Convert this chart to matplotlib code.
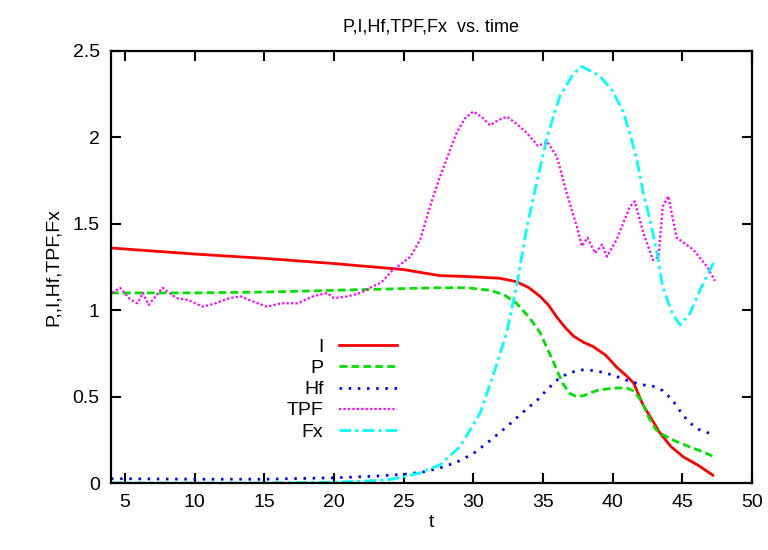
import matplotlib
matplotlib.use('Agg')
import matplotlib.pyplot as plt

plt.rcParams['font.family'] = ['Liberation Sans', 'DejaVu Sans']

# I
t_I = [4, 10, 15, 20, 25, 27.6, 29.5, 31.9, 33.1, 34.0, 34.8, 35.4, 36.0, 36.6, 37.2, 37.9, 38.6, 39.5,
       40.3, 41.0, 41.5, 42.2, 43.4, 44.2, 45.1, 46.2, 47.2]
v_I = [1.36, 1.325, 1.30, 1.27, 1.235, 1.20, 1.195, 1.185, 1.165, 1.13, 1.08, 1.03, 0.96, 0.90, 0.85, 0.815,
       0.79, 0.74, 0.67, 0.62, 0.58, 0.45, 0.29, 0.21, 0.15, 0.10, 0.045]

# P
t_P = [4, 10, 15, 20, 25, 27.6, 29.5, 31.2, 32.2, 33.1, 34.0, 34.8, 35.7, 36.4, 36.9, 37.4, 37.9, 38.5,
       39.1, 40.3, 41.0, 41.6, 42.1, 42.6, 43.1, 43.6, 44.3, 45.5, 46.5, 47.2]
v_P = [1.10, 1.10, 1.105, 1.115, 1.125, 1.13, 1.13, 1.115, 1.09, 1.04, 0.96, 0.87, 0.71, 0.58, 0.52, 0.50,
       0.505, 0.525, 0.54, 0.55, 0.55, 0.53, 0.47, 0.38, 0.31, 0.28, 0.25, 0.21, 0.18, 0.155]

# Hf
t_Hf = [4, 10, 15, 20, 23, 25, 26.5, 27.6, 28.8, 30.0, 31.2, 32.4, 33.5, 34.6, 35.3, 36.0, 36.8, 37.7, 38.8,
        40.0, 41.0, 42.0, 42.9, 43.6, 44.3, 44.9, 45.5, 46.2, 47.2]
v_Hf = [0.025, 0.022, 0.022, 0.03, 0.04, 0.05, 0.065, 0.087, 0.12, 0.17, 0.245, 0.325, 0.405, 0.48, 0.54,
        0.595, 0.635, 0.655, 0.65, 0.625, 0.595, 0.57, 0.56, 0.535, 0.48, 0.41, 0.35, 0.31, 0.28]

# TPF
t_TPF = [4.1, 4.65, 5.4, 5.9, 6.3, 6.7, 7.2, 7.7, 8.2, 8.7, 9.5, 10.6, 11.5, 12.5, 13.3, 14.2, 15.2, 16.2,
         17.4, 18.5, 19.5, 20.0, 21.0, 21.9, 22.6, 23.4, 24.2, 25.5, 26.2, 26.9, 27.6, 28.8, 29.4, 30.0,
         30.6, 31.2, 31.8, 32.4, 33.1, 33.85, 34.65, 35.3, 36.0, 36.7, 37.45, 37.8, 38.2, 38.75, 39.25, 39.6,
         40.3, 41.25, 41.6, 42.2, 42.9, 43.3, 43.6, 44.0, 44.6, 45.8, 46.8, 47.35]
v_TPF = [1.10, 1.13, 1.06, 1.04, 1.10, 1.03, 1.08, 1.13, 1.10, 1.07, 1.06, 1.02, 1.04, 1.07, 1.08, 1.05,
         1.02, 1.04, 1.04, 1.08, 1.10, 1.07, 1.08, 1.10, 1.13, 1.16, 1.23, 1.31, 1.41, 1.60, 1.77, 2.025,
         2.11, 2.15, 2.12, 2.07, 2.10, 2.12, 2.08, 2.025, 1.95, 1.975, 1.89, 1.68, 1.48, 1.37, 1.42, 1.33,
         1.38, 1.31, 1.41, 1.60, 1.63, 1.45, 1.29, 1.31, 1.60, 1.66, 1.42, 1.35, 1.25, 1.17]

# Fx
t_Fx = [4, 15, 20, 22, 24, 25, 26.2, 27.6, 29.05, 30.5, 31.4, 32.4, 33.1, 33.85, 34.6, 35.3, 36.2, 37.2,
        37.8, 39.1, 40.0, 40.75, 41.25, 41.75, 42.2, 42.7, 43.2, 43.6, 44.3, 44.85, 45.55, 46.3, 47.35]
v_Fx = [0.0, 0.0, 0.005, 0.01, 0.02, 0.035, 0.06, 0.104, 0.21, 0.405, 0.615, 0.87, 1.135, 1.48, 1.755, 2.00,
        2.235, 2.37, 2.41, 2.355, 2.27, 2.15, 2.02, 1.87, 1.68, 1.52, 1.33, 1.135, 0.98, 0.915, 0.98, 1.12,
        1.29]

x_ticks = [5, 10, 15, 20, 25, 30, 35, 40, 45, 50]
y_ticks = [0, 0.5, 1, 1.5, 2, 2.5]
y_ticklabels = ['0', '0.5', '1', '1.5', '2', '2.5']

fig = plt.figure(figsize=(7.68, 5.5), dpi=100)
ax = fig.add_axes([0.1445, 0.1218, 0.8345, 0.7855])

lw = 2.0
ax.plot(t_I, v_I, color='#ff0000', lw=lw, label='I')
ax.plot(t_P, v_P, color='#00e000', lw=lw, dashes=(2.8, 1.5), label='P')
ax.plot(t_Hf, v_Hf, color='#0000ff', lw=lw, dashes=(0.9, 2.4), label='Hf')
ax.plot(t_TPF, v_TPF, color='#ff00ff', lw=1.6, dashes=(1.0, 1.0), label='TPF')
ax.plot(t_Fx, v_Fx, color='#00ffff', lw=lw, dashes=(4.2, 1.5, 1.1, 1.5), label='Fx')

ax.set_xlim(4, 50)
ax.set_ylim(0, 2.5)
ax.set_xticks(x_ticks)
ax.set_yticks(y_ticks)
ax.set_yticklabels(y_ticklabels)
ax.tick_params(direction='in', length=7, width=1.5, top=True, right=True, labelsize=14, pad=8)
for s in ax.spines.values():
    s.set_linewidth(1.6)

ax.set_title('P,I,Hf,TPF,Fx  vs. time', fontsize=13, pad=14)
ax.set_xlabel('t', fontsize=14, labelpad=2)
ax.set_ylabel('P,,I,Hf,TPF,Fx', fontsize=14, labelpad=8)

ax.legend(loc='upper right', bbox_to_anchor=(0.462, 0.357), frameon=False, markerfirst=False,
          fontsize=14, handlelength=3.0, labelspacing=0.18, handletextpad=0.8, borderpad=0)

fig.savefig('out.png', dpi=100)
